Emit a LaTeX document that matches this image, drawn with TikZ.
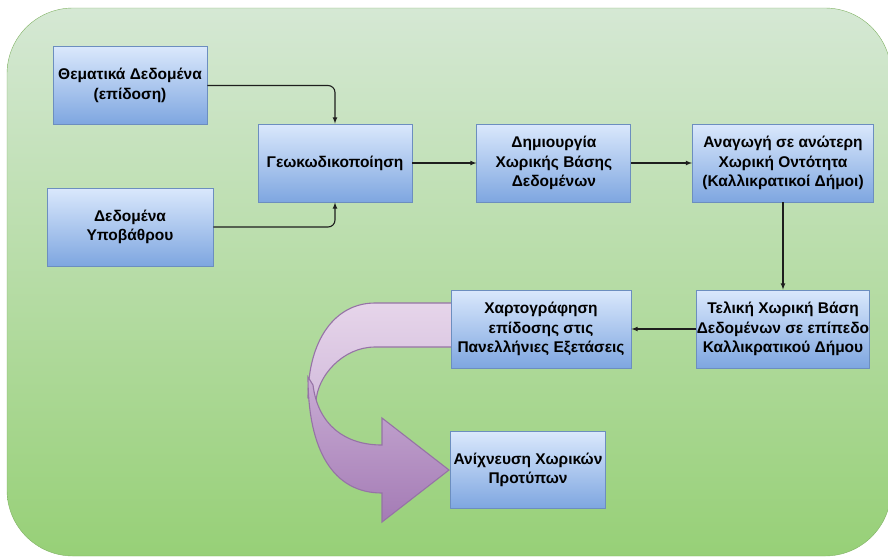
\documentclass[tikz,border=0pt]{standalone}
\usepackage{fontspec}
\setmainfont{Liberation Sans}
\usepackage{tikz}
\usetikzlibrary{arrows,positioning}

\definecolor{bgtop}{HTML}{D5E8D4}
\definecolor{bgbot}{HTML}{97D077}
\definecolor{bgln}{HTML}{82B366}
\definecolor{boxtop}{HTML}{DAE8FC}
\definecolor{boxbot}{HTML}{7EA6E0}
\definecolor{boxln}{HTML}{6C8EBF}
\definecolor{pltop}{HTML}{E6D5EA}
\definecolor{plbot}{HTML}{D3BCDC}
\definecolor{pdtop}{HTML}{C9ADD4}
\definecolor{pdbot}{HTML}{A47BB5}
\definecolor{pln}{HTML}{9673A6}
\definecolor{lnk}{HTML}{1E1E1E}

\begin{document}
\begin{tikzpicture}[x=1pt,y=-1pt,node distance=64pt,>=latex,
  box/.style={draw=boxln,line width=0.9pt,top color=boxtop,bottom color=boxbot,
    minimum height=78pt,align=center,inner sep=0pt,
    font=\bfseries\fontsize{15.5}{19.5}\selectfont},
  link/.style={lnk,line width=1.1pt}]
  \useasboundingbox (0,0) rectangle (888,558);
  \draw[bgln,top color=bgtop,bottom color=bgbot,rounded corners=66pt]
    (7,8) rectangle (891,556);

  % curved arrow
  \draw[pln,line width=1.1pt,top color=pltop,bottom color=plbot]
    (452,303) -- (375,303) .. controls (335,303) and (308,340) .. (308,398)
    -- (316,402) .. controls (317,376) and (343,347) .. (375,347)
    -- (452,347) -- cycle;
  \draw[pln,line width=1.1pt,top color=pdtop,bottom color=pdbot]
    (308,377) .. controls (308,450) and (333,493) .. (382,493)
    -- (382,522) -- (449,470) -- (382,418) -- (382,445)
    .. controls (345,445) and (318,425) .. (313,385) -- cycle;

  \node[box,minimum width=154pt] (b_0) at (130,85.5) {Θεματικά Δεδομένα\\(επίδοση)};
  \node[box,minimum width=166pt] (b_1) at (130,227) {Δεδομένα\\Υποβάθρου};
  \node[box,minimum width=154pt] (b_2) at (335,163) {Γεωκωδικοποίηση};
  \node[box,minimum width=154pt] (b_3) [right=of b_2] {Δημιουργία\\Χωρικής Βάσης\\Δεδομένων};
  \node[box,minimum width=181pt] (b_4) at (783,163) {Αναγωγή σε ανώτερη\\Χωρική Οντότητα\\(Καλλικρατικοί Δήμοι)};
  \node[box,minimum width=171pt] (b_5) at (783,329) {Τελική Χωρική Βάση\\Δεδομένων σε επίπεδο\\Καλλικρατικού Δήμου};
  \node[box,minimum width=180pt] (b_6) at (541,329) {Χαρτογράφηση\\επίδοσης στις\\Πανελλήνιες Εξετάσεις};
  \node[box,minimum width=155pt,minimum height=77pt] (b_7) at (528,470) {Ανίχνευση Χωρικών\\Προτύπων};

  \draw[link,->,rounded corners=7pt] (b_0.east) -| (b_2.north);
  \draw[link,->,rounded corners=7pt] (b_1.east) -| (b_2.south);
  \path[link,->] (b_2) edge (b_3);
  \path[link,->] (b_3) edge (b_4);
  \path[link,->] (b_4) edge (b_5);
  \path[link,->] (b_5) edge (b_6);
\end{tikzpicture}
\end{document}
